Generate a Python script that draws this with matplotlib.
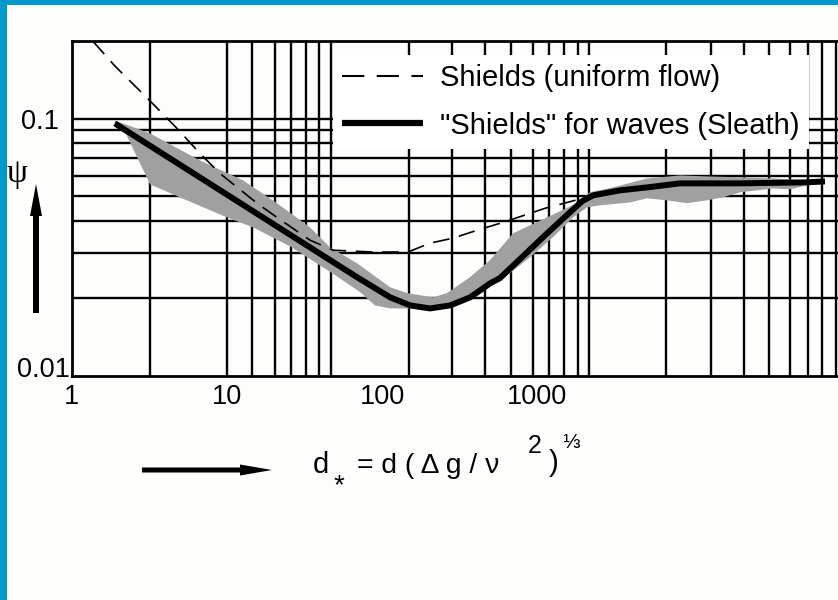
import numpy as np
import matplotlib
matplotlib.use('Agg')
import matplotlib.pyplot as plt
from matplotlib.patches import Rectangle, FancyArrow
from matplotlib.lines import Line2D
from matplotlib.transforms import IdentityTransform, ScaledTranslation
from matplotlib.ticker import FixedLocator, FixedFormatter, NullLocator

plt.rcParams['font.family'] = ['Liberation Sans', 'DejaVu Sans']
plt.rcParams['lines.scale_dashes'] = False

# ---------------- data (axis units as labelled) ----------------
shields_x = [1.37, 1.89, 3.19, 4.76, 6.70, 9.01, 15.6, 21.0, 34.3, 48.3, 87.5, 147,
             204, 287, 410, 604, 1127, 1759, 2746, 5360]
shields_y = [0.199, 0.160, 0.117, 0.0915, 0.0731, 0.0612, 0.0469, 0.0413, 0.0337, 0.0308,
             0.0303, 0.0303, 0.0328, 0.0343, 0.0368, 0.0395, 0.0448, 0.0481, 0.0517, 0.0545]

sleath_x = [1.89, 34.3, 46.2, 69.0, 113, 152, 204, 275, 370, 498, 577, 1161, 1950,
            2298, 3431, 5125, 8370, 20400, 55200, 72100]
sleath_y = [0.0957, 0.0316, 0.0282, 0.0242, 0.0202, 0.0188, 0.0183, 0.0188, 0.0202,
            0.0229, 0.0240, 0.0358, 0.0477, 0.0503, 0.0526, 0.0540, 0.0560, 0.0560,
            0.0565, 0.0570]

band_upper_x = [1.89, 3.19, 6.70, 12.7, 21.0, 34.3, 46.2, 69.0, 113, 145, 213, 263, 370,
                498, 700, 1161, 1811, 2198, 3093, 5125, 8370, 12500, 20400, 33300, 55200,
                72100]
band_upper_y = [0.0983, 0.0875, 0.0687, 0.0575, 0.0469, 0.0378, 0.0316, 0.0274, 0.0221,
                0.0210, 0.0202, 0.0210, 0.0242, 0.0282, 0.0358, 0.0413, 0.0469, 0.0517,
                0.0540, 0.0585, 0.0601, 0.0596, 0.0591, 0.0585, 0.0575, 0.0575]

band_lower_x = [1.89, 2.13, 3.19, 4.97, 10, 14.7, 25.5, 47.6, 72.1, 90.1, 113, 145, 237,
                305, 410, 552, 670, 901, 1268, 1708, 2103, 2547, 3981, 5125, 6900, 9290,
                12500, 15850, 20400, 33300, 42900, 55200, 72100]
band_lower_y = [0.0939, 0.0923, 0.0555, 0.0494, 0.0413, 0.0378, 0.0319, 0.0251, 0.0212,
                0.0188, 0.0183, 0.0183, 0.0185, 0.0192, 0.0210, 0.0236, 0.0251, 0.0289,
                0.0346, 0.0413, 0.0452, 0.0460, 0.0472, 0.0490, 0.0481, 0.0469, 0.0481,
                0.0494, 0.0517, 0.0535, 0.0531, 0.0550, 0.0565]

# grid lines of the underlying log paper
vgrid = [3.19, 10.0, 14.5, 20.4, 25.9, 32.3, 39.2, 46.9, 149, 283, 462, 679, 942, 1195,
         1494, 1840, 2164, 6800, 13270, 21650, 31400, 42860, 55980, 69000, 84900]
hgrid = [0.02, 0.03, 0.04, 0.05, 0.06, 0.07, 0.08, 0.09, 0.1]

xticks = [1, 10, 100, 1000]
xtick_labels = ['1', '10', '100', '1000']
yticks = [0.01, 0.1]
ytick_labels = ['0.01', '0.1']

legend_labels = ['Shields (uniform flow)', '"Shields" for waves (Sleath)']

# ---------------- figure ----------------
W, H = 838, 600
BG = '#fdfdfb'
fig = plt.figure(figsize=(W / 100, H / 100), dpi=100, facecolor=BG)

def fx(px):
    return px / W

def fy(py):
    return 1 - py / H

# blue frame pieces
fig.add_artist(Rectangle((0, 0), fx(7), 1, transform=fig.transFigure,
                         color='#0099cc', lw=0, zorder=0))
fig.add_artist(Rectangle((0, fy(5)), 1, 1 - fy(5), transform=fig.transFigure,
                         color='#0099cc', lw=0, zorder=0))

ax_l, ax_r, ax_t, ax_b = 72, 842, 41, 376
ax = fig.add_axes([fx(ax_l), fy(ax_b), (ax_r - ax_l) / W, (ax_b - ax_t) / H])
ax.set_facecolor(BG)
ax.set_xscale('log')
ax.set_yscale('log')
decade_px = 155
ax.set_xlim(1, 10 ** ((ax_r - ax_l) / decade_px))
ax.set_ylim(0.01, 0.2)

for v in vgrid:
    ax.axvline(v, color='black', lw=1.7, zorder=1)
for h in hgrid:
    ax.axhline(h, color='black', lw=1.7, zorder=1)

ax.fill(np.r_[band_upper_x, band_lower_x[::-1]], np.r_[band_upper_y, band_lower_y[::-1]],
        color='#a0a0a0', lw=0, zorder=2)
ax.plot(sleath_x, sleath_y, color='black', lw=4.3, zorder=3,
        solid_joinstyle='round', solid_capstyle='butt')
ax.plot(shields_x, shields_y, color='black', lw=1.2, dashes=(12, 7), zorder=4)

h1 = Line2D([], [], color='black', lw=1.5, dashes=(16, 9))
h2 = Line2D([], [], color='black', lw=4.5, solid_capstyle='butt')
leg = ax.legend([h1, h2], legend_labels, loc='upper left',
                bbox_to_anchor=(fx(333), fy(55)), bbox_transform=fig.transFigure,
                fontsize=21, frameon=True, fancybox=False, edgecolor='none',
                facecolor='white', framealpha=1, borderpad=0.32, handlelength=2.75,
                handletextpad=0.6, labelspacing=0.66, borderaxespad=0)
leg.set_zorder(6)

ax.xaxis.set_major_locator(FixedLocator(xticks))
ax.xaxis.set_major_formatter(FixedFormatter(xtick_labels))
ax.xaxis.set_minor_locator(NullLocator())
ax.yaxis.set_major_locator(FixedLocator(yticks))
ax.yaxis.set_major_formatter(FixedFormatter(ytick_labels))
ax.yaxis.set_minor_locator(NullLocator())
ax.tick_params(axis='both', which='both', length=0, labelsize=19.5, colors='black')
ax.tick_params(axis='x', pad=6)
ax.tick_params(axis='y', pad=9.5)

for s in ax.spines.values():
    s.set_linewidth(2.0)
    s.set_color('black')
    s.set_zorder(7)

# shift the 0.01 label as in the original
yt = ax.yaxis.get_major_ticks()
yt[0].label1.set_transform(yt[0].label1.get_transform() +
                           ScaledTranslation(11 / 100, 9 / 100, fig.dpi_scale_trans))

# axis labels and arrows
fig.text(fx(17), fy(174), 'ψ', family=['Liberation Serif', 'DejaVu Serif'], fontsize=24,
         ha='center', va='center')
fig.add_artist(FancyArrow(36, H - 313, 0, 313 - 184, width=6, head_width=12,
                          head_length=32, length_includes_head=True, color='black',
                          lw=0, transform=IdentityTransform()))
fig.add_artist(FancyArrow(142, H - 470, 272 - 142, 0, width=5, head_width=11,
                          head_length=32, length_includes_head=True, color='black',
                          lw=0, transform=IdentityTransform()))

fig.text(fx(313), fy(473), 'd', fontsize=21, va='baseline', ha='left')
fig.text(fx(339), fy(493), '*', fontsize=20, va='baseline', ha='center')
fig.text(fx(357), fy(473), '= d ( Δ g / ν', fontsize=20.3, va='baseline', ha='left')
fig.text(fx(528), fy(453), '2', fontsize=18, va='baseline', ha='left')
fig.text(fx(549), fy(471), ')', fontsize=21, va='baseline', ha='left')
fig.text(fx(562), fy(448), '⅓', fontsize=15, va='baseline', ha='left')

fig.savefig('out.png', dpi=100, facecolor=BG)
